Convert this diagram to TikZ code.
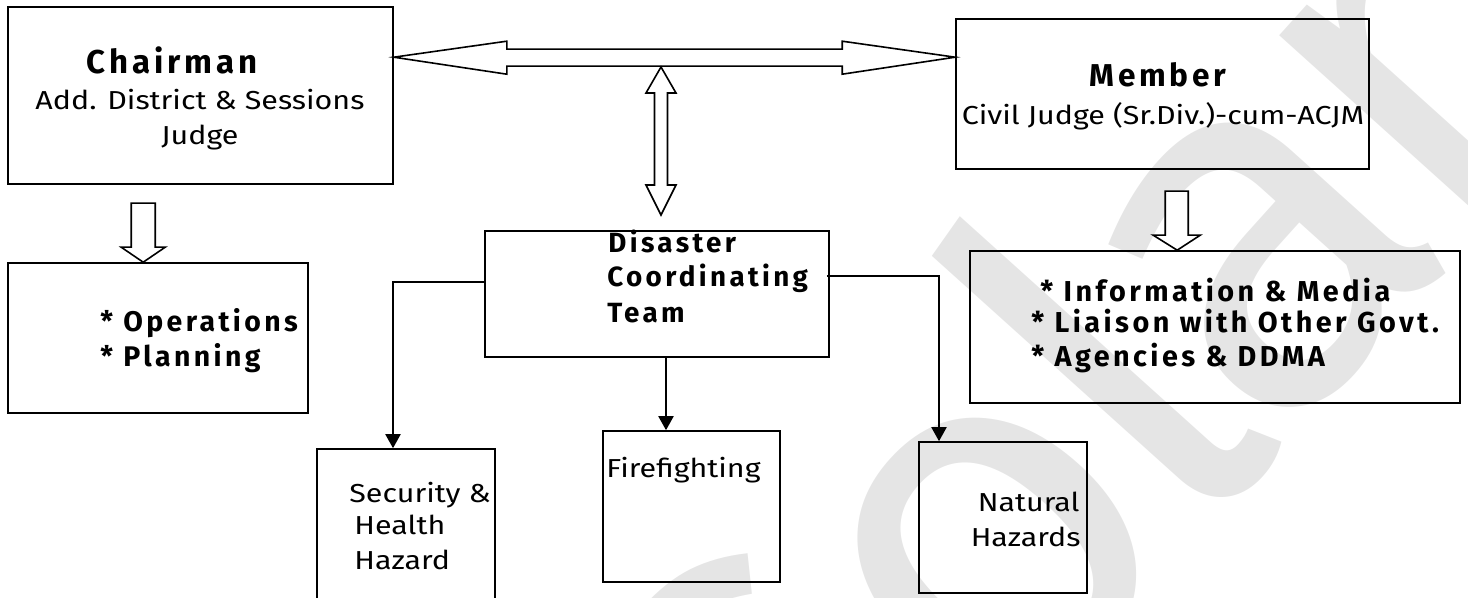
\documentclass[tikz,border=0pt]{standalone}
\usepackage{fontspec}
\setmainfont{Fira Sans}[FakeStretch=1.17]
\newfontfamily\spacedfont{Fira Sans}[LetterSpace=12]
\newfontfamily\wmfont{Fira Sans}[LetterSpace=-4]
\usetikzlibrary{arrows.meta,calc}
\begin{document}
\begin{tikzpicture}[x=0.5pt,y=-0.5pt,
  box/.style={draw, line width=0.8pt, inner sep=0pt},
  hollow/.style={draw, line width=0.8pt, fill=white, line join=miter},
  conn/.style={draw, line width=1pt, -{Triangle[width=7.5pt,length=7pt]}},
  txt/.style={inner sep=0pt, font=\fontsize{13}{15}\selectfont},
  btxt/.style={inner sep=0pt, font=\fontsize{#1}{15}\selectfont\spacedfont\bfseries},
  btxt/.default=14,
  wmark/.style={inner sep=0pt, text=black!10, font=\fontsize{262}{262}\selectfont\wmfont}]
\useasboundingbox (0,0) rectangle (1468,598);
% watermark
\node[wmark, rotate=48] (wm) at (1095,365) {Solan};
% boxes
\node[box, minimum width=192.5pt, minimum height=88.5pt] (chair) at (200.5,95.5) {};
\node[box, minimum width=206.5pt, minimum height=75pt] (member) at (1162.5,94) {};
\node[box, minimum width=150pt, minimum height=75pt] (ops) at (158,338) {};
\node[box, minimum width=245pt, minimum height=76pt] (info) at (1215,327) {};
\node[box, minimum width=172pt, minimum height=63pt] (dct) at (657,294) {};
\node[box, minimum width=89pt, minimum height=95.5pt] (sec) at (406,544.5) {};
\node[box, minimum width=88.5pt, minimum height=75.5pt] (fire) at (691.5,506.5) {};
\node[box, minimum width=84pt, minimum height=75.5pt] (nat) at (1003,517.5) {};
% texts
\node[btxt=16.5, anchor=base] (t1) at (172,74) {Chairman};
\node[txt, anchor=base] (t2) at (200,110) {Add. District \& Sessions};
\node[txt, anchor=base] (t3) at (200,145) {Judge};
\node[btxt=15.8, anchor=base] (t4) at (1158,87) {Member};
\node[txt, anchor=base] (t5) at (1163,125) {Civil Judge (Sr.Div.)-cum-ACJM};
\node[btxt=13.9, anchor=base west] (t6) at (608,253) {Disaster};
\node[btxt=13.9, anchor=base west] (t7) at (607,287) {Coordinating};
\node[btxt=13.9, anchor=base west] (t8) at (607,323) {Team};
\node[btxt=14.2, anchor=base west] (t9) at (100,332) {* Operations};
\node[btxt=14.2, anchor=base west] (t10) at (100,367) {* Planning};
\node[btxt=14.4, anchor=base west] (t11) at (1040,302) {* Information \& Media};
\node[btxt=14.4, anchor=base west] (t12) at (1031,333) {* Liaison with Other Govt.};
\node[btxt=14.4, anchor=base west] (t13) at (1031,367) {* Agencies \& DDMA};
\node[txt, anchor=base west] (t14) at (349,503) {Security \&};
\node[txt, anchor=base west] (t15) at (354,535) {Health};
\node[txt, anchor=base west] (t16) at (354,569) {Hazard};
\node[txt, anchor=base west] (t17) at (606,478) {Firefighting};
\node[txt, anchor=base east] (t18) at (1080,512) {Natural};
\node[txt, anchor=base east] (t19) at (1081,547) {Hazards};
% hollow double arrow chair <-> member
\coordinate (L) at ($(chair.north east)+(0,51)$);
\coordinate (R) at ($(member.north west)+(0,39)$);
\path[hollow] (L) -- ++(113,-16) -- ++(0,8) -- ($(R)+(-113,-8)$) -- ++(0,-8) -- (R)
  -- ++(-113,17) -- ++(0,-8) -- ($(L)+(113,9)$) -- ++(0,8) -- cycle;
% vertical hollow double arrow
\coordinate (VT) at (661,67);
\coordinate (VB) at (661,215);
\path[hollow] (VT) -- ++(15,26) -- ++(-8.5,0) -- ($(VB)+(6.5,-30)$) -- ++(8.5,0) -- (VB)
  -- ++(-15,-30) -- ++(8.5,0) -- ($(VT)+(-6.5,26)$) -- ++(-8.5,0) -- cycle;
% chairman down arrow
\coordinate (CD) at ($(ops.north west)+(136,0)$);
\path[hollow] (CD) -- ++(22,-15) -- ++(-10,0) -- ++(0,-44) -- ++(-24,0) -- ++(0,44) -- ++(-10,0) -- cycle;
% member down arrow
\coordinate (MD) at ($(info.north west)+(208,0)$);
\path[hollow] (MD) -- ++(23,-15) -- ++(-12,0) -- ++(0,-44) -- ++(-23,0) -- ++(0,44) -- ++(-12,0) -- cycle;
% thin connectors
\draw[conn] ([yshift=6pt]dct.west) -| ([xshift=-6.5pt]sec.north);
\draw[conn] ([xshift=4.5pt]dct.south) -- ([xshift=4.5pt]dct.south |- fire.north);
\draw[conn] ([yshift=9pt,xshift=-1.5pt]dct.east) -| ([xshift=-32pt]nat.north);
\end{tikzpicture}
\end{document}
